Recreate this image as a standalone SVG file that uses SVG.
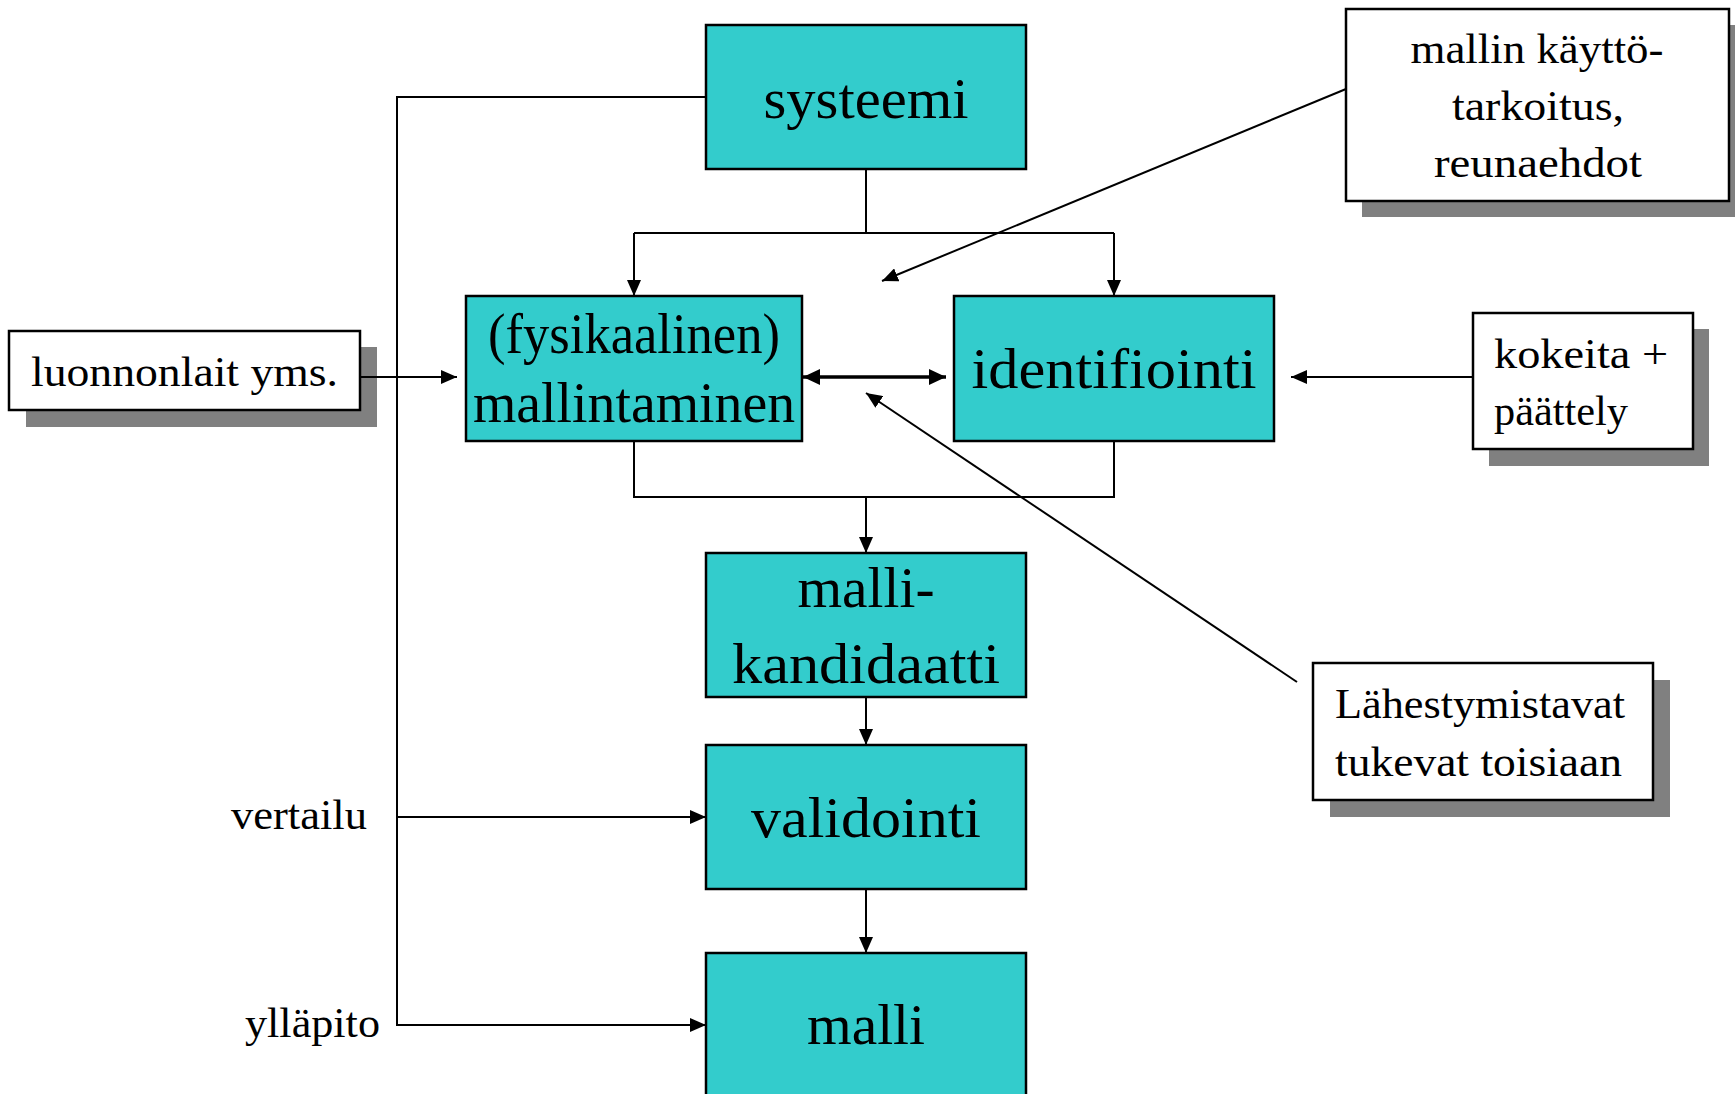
<svg xmlns="http://www.w3.org/2000/svg" width="1735" height="1094" viewBox="0 0 1735 1094">
<style>
.box{fill:#33CCCC;stroke:#000;stroke-width:2.5}
.note{fill:#fff;stroke:#000;stroke-width:2.5}
.shadow{fill:#808080}
.big{font-family:"Liberation Serif",serif;font-size:58px;fill:#000;text-anchor:middle}
.small{font-family:"Liberation Serif",serif;font-size:42px;fill:#000}
.c{text-anchor:middle}
.e{text-anchor:end}
.ln{fill:none;stroke:#000;stroke-width:2}
.thick{fill:none;stroke:#000;stroke-width:3.5}
</style>
<defs>
<marker id="ah" viewBox="0 0 16 14" refX="16" refY="7" markerUnits="userSpaceOnUse" markerWidth="16" markerHeight="14" orient="auto">
<path d="M0,0 L16,7 L0,14 Z" fill="#000"/>
</marker>
<marker id="ah2" viewBox="0 0 17 16" refX="17" refY="8" markerUnits="userSpaceOnUse" markerWidth="17" markerHeight="16" orient="auto-start-reverse">
<path d="M0,0 L17,8 L0,16 Z" fill="#000"/>
</marker>
</defs>

<g id="systeemi">
<rect class="box" x="706" y="25" width="320" height="144"/>
<text class="big" x="866" y="118" textLength="205" lengthAdjust="spacingAndGlyphs">systeemi</text>
</g>

<g id="mallintaminen">
<rect class="box" x="466" y="296" width="336" height="145"/>
<text class="big" x="634" y="353" textLength="292" lengthAdjust="spacingAndGlyphs">(fysikaalinen)</text>
<text class="big" x="634" y="422" textLength="322" lengthAdjust="spacingAndGlyphs">mallintaminen</text>
</g>

<g id="identifiointi">
<rect class="box" x="954" y="296" width="320" height="145"/>
<text class="big" x="1114" y="388" textLength="285" lengthAdjust="spacingAndGlyphs">identifiointi</text>
</g>

<g id="mallikandidaatti">
<rect class="box" x="706" y="553" width="320" height="144"/>
<text class="big" x="866" y="607" textLength="137" lengthAdjust="spacingAndGlyphs">malli-</text>
<text class="big" x="866" y="683" textLength="268" lengthAdjust="spacingAndGlyphs">kandidaatti</text>
</g>

<g id="validointi">
<rect class="box" x="706" y="745" width="320" height="144"/>
<text class="big" x="866" y="837" textLength="230" lengthAdjust="spacingAndGlyphs">validointi</text>
</g>

<g id="malli">
<rect class="box" x="706" y="953" width="320" height="160"/>
<text class="big" x="866" y="1044" textLength="118" lengthAdjust="spacingAndGlyphs">malli</text>
</g>

<g id="luonnonlait">
<rect class="shadow" x="26" y="347" width="351" height="80"/>
<rect class="note" x="9" y="331" width="351" height="79"/>
<text class="small" x="31" y="386" textLength="307" lengthAdjust="spacingAndGlyphs">luonnonlait yms.</text>
</g>

<g id="kayttotarkoitus">
<rect class="shadow" x="1362" y="25" width="383" height="192"/>
<rect class="note" x="1346" y="9" width="383" height="192"/>
<text class="small c" x="1537" y="63" textLength="253" lengthAdjust="spacingAndGlyphs">mallin käyttö-</text>
<text class="small c" x="1538" y="120" textLength="172" lengthAdjust="spacingAndGlyphs">tarkoitus,</text>
<text class="small c" x="1538" y="177" textLength="208" lengthAdjust="spacingAndGlyphs">reunaehdot</text>
</g>

<g id="kokeita">
<rect class="shadow" x="1489" y="329" width="220" height="137"/>
<rect class="note" x="1473" y="313" width="220" height="136"/>
<text class="small" x="1494" y="368" textLength="174" lengthAdjust="spacingAndGlyphs">kokeita +</text>
<text class="small" x="1494" y="425" textLength="134" lengthAdjust="spacingAndGlyphs">päättely</text>
</g>

<g id="lahestymistavat">
<rect class="shadow" x="1330" y="680" width="340" height="137"/>
<rect class="note" x="1313" y="663" width="340" height="137"/>
<text class="small" x="1335" y="718" textLength="290" lengthAdjust="spacingAndGlyphs">Lähestymistavat</text>
<text class="small" x="1335" y="776" textLength="287" lengthAdjust="spacingAndGlyphs">tukevat toisiaan</text>
</g>

<g id="labels">
<text class="small e" x="367" y="829" textLength="136" lengthAdjust="spacingAndGlyphs">vertailu</text>
<text class="small e" x="380" y="1037" textLength="135" lengthAdjust="spacingAndGlyphs">ylläpito</text>
</g>

<g id="connectors">
<path class="ln" d="M706,97 H397 V1025 H706" marker-end="url(#ah)"/>
<path class="ln" d="M397,817 H706" marker-end="url(#ah)"/>
<path class="ln" d="M361,377 H457" marker-end="url(#ah)"/>
<path class="ln" d="M866,169 V233"/>
<path class="ln" d="M634,233 H1114"/>
<path class="ln" d="M634,233 V296" marker-end="url(#ah)"/>
<path class="ln" d="M1114,233 V296" marker-end="url(#ah)"/>
<path class="thick" d="M803,377 H946" marker-start="url(#ah2)" marker-end="url(#ah2)"/>
<path class="ln" d="M634,441 V497 H1114 V441"/>
<path class="ln" d="M866,497 V553" marker-end="url(#ah)"/>
<path class="ln" d="M866,697 V745" marker-end="url(#ah)"/>
<path class="ln" d="M866,889 V953" marker-end="url(#ah)"/>
<path class="ln" d="M1473,377 H1291" marker-end="url(#ah)"/>
<path class="ln" d="M1346,89 L882,281" marker-end="url(#ah)"/>
<path class="ln" d="M1297,682 L866,393" marker-end="url(#ah)"/>
</g>
</svg>
